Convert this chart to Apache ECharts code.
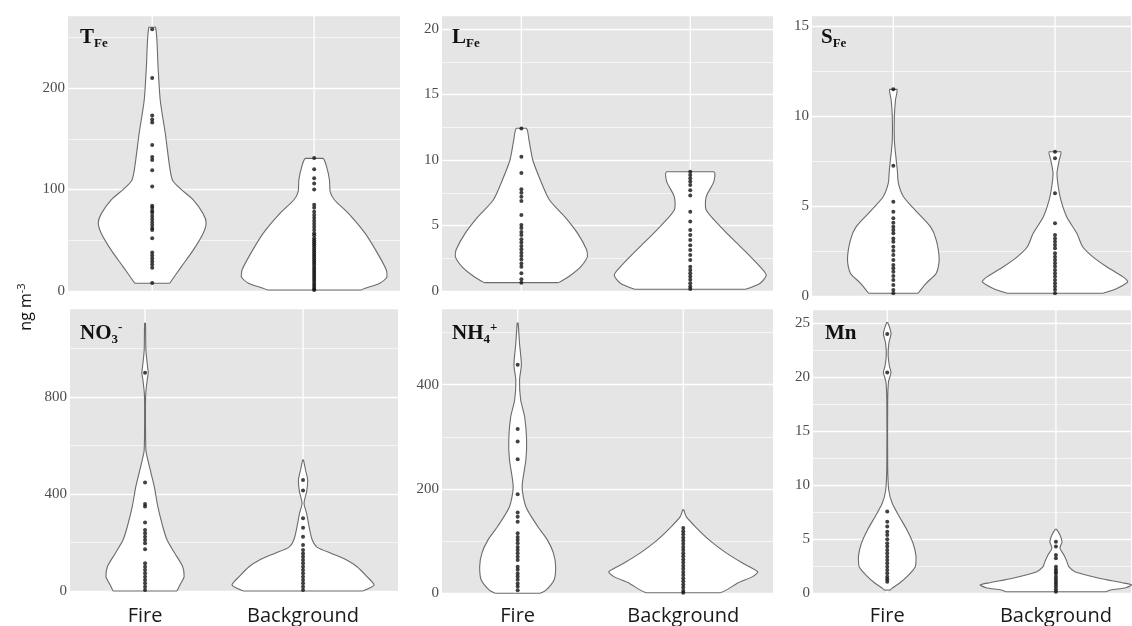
<!DOCTYPE html>
<html>
<head>
<meta charset="utf-8">
<title>Violin plots</title>
<script src="https://cdn.jsdelivr.net/npm/echarts@6/dist/echarts.min.js"></script>
<style>
  html, body { margin: 0; padding: 0; background: #fff; }
  #main { width: 1132px; height: 626px; }
</style>
</head>
<body>
<div id="main"></div>
<script>
var categories = ['Fire', 'Background'];

// points (ng m-3)
var tfeFirePts = [258, 210, 173, 169, 166, 144, 132, 129, 119, 103, 84, 82, 79, 77, 74, 71, 68, 65, 62, 60, 52, 38, 35, 32, 29, 26, 23, 8];
var tfeBgPts = [131, 120, 111, 106, 100, 85, 82, 78, 75, 72, 69, 66, 63, 60, 57, 55, 52, 50, 48, 46, 44, 42, 40, 38, 36, 34, 32, 30, 28, 26, 24, 22, 20, 18, 16, 14, 12, 10, 8, 6, 4, 2, 1];
var lfeFirePts = [12.4, 10.25, 9.0, 7.76, 7.5, 7.2, 6.87, 5.8, 5.04, 4.8, 4.5, 4.27, 3.95, 3.7, 3.44, 3.18, 2.92, 2.67, 2.4, 2.1, 1.85, 1.35, 0.9, 0.63];
var lfeBgPts = [9.1, 8.85, 8.6, 8.35, 8.1, 7.7, 7.3, 6.05, 5.3, 4.65, 4.27, 3.9, 3.5, 3.13, 2.75, 2.37, 1.85, 1.6, 1.35, 1.1, 0.85, 0.6, 0.35, 0.15];
var sfeFirePts = [11.48, 7.25, 5.25, 4.7, 4.33, 4.09, 3.87, 3.68, 3.5, 3.22, 3.04, 2.76, 2.54, 2.3, 2.02, 1.75, 1.56, 1.37, 1.14, 0.91, 0.64, 0.36, 0.18];
var sfeBgPts = [8.02, 7.66, 5.72, 4.06, 3.41, 3.22, 3.04, 2.85, 2.67, 2.39, 2.2, 2.02, 1.84, 1.66, 1.47, 1.29, 1.11, 0.92, 0.74, 0.55, 0.37, 0.18];
var no3FirePts = [900, 447, 359, 348, 282, 252, 238, 224, 210, 197, 172, 114, 100, 87, 73, 59, 45, 32, 18, 4];
var no3BgPts = [458, 414, 300, 261, 224, 190, 169, 155, 141, 128, 114, 100, 87, 73, 59, 45, 32, 18, 4];
var nh4FirePts = [438, 315, 291, 257, 190, 155, 147, 137, 115, 108, 102, 96, 89, 83, 77, 70, 64, 51, 45, 38, 32, 26, 19, 13, 6];
var nh4BgPts = [125, 119, 113, 107, 101, 95, 89, 83, 77, 71, 65, 59, 53, 47, 41, 35, 29, 23, 17, 11, 5, 1];
var mnFirePts = [23.98, 20.43, 7.56, 6.63, 6.17, 5.7, 5.4, 5.0, 4.63, 4.32, 4.01, 3.7, 3.39, 3.08, 2.78, 2.46, 2.16, 1.85, 1.54, 1.3, 1.07];
var mnBgPts = [4.78, 4.32, 3.55, 3.24, 2.46, 2.2, 2.0, 1.8, 1.54, 1.3, 1.07, 0.85, 0.62, 0.37, 0.15];

// violin outlines: [value, relative density width], top to bottom
var tfeFireShape = [[260, 0.045], [221, 0.08], [188, 0.11], [155, 0.18], [122, 0.24], [109, 0.28], [100, 0.4], [90, 0.56], [76, 0.7], [67, 0.74], [57, 0.7], [40, 0.56], [24, 0.4], [7.6, 0.24]];
var tfeBgShape = [[130.7, 0.12], [122.5, 0.17], [109.4, 0.21], [97.8, 0.22], [89.7, 0.28], [76.5, 0.47], [56.8, 0.7], [37.1, 0.87], [20.7, 0.99], [14.1, 1.0], [7.6, 0.9], [2.7, 0.7], [1.0, 0.64]];
var lfeFireShape = [[12.42, 0.066], [11.53, 0.1], [10.0, 0.15], [8.47, 0.25], [6.95, 0.37], [5.67, 0.57], [4.4, 0.74], [3.13, 0.86], [2.62, 0.87], [1.85, 0.78], [1.09, 0.62], [0.64, 0.49]];
var lfeBgShape = [[9.1, 0.31], [8.35, 0.31], [7.2, 0.21], [6.18, 0.21], [4.9, 0.4], [3.9, 0.57], [2.88, 0.75], [1.85, 0.92], [1.22, 1.0], [0.59, 0.92], [0.13, 0.73]];
var sfeFireShape = [[11.48, 0.05], [10.9, 0.03], [9.96, 0.014], [8.67, 0.014], [7.93, 0.03], [7.0, 0.055], [6.27, 0.07], [5.53, 0.14], [4.79, 0.3], [3.87, 0.51], [3.13, 0.59], [2.02, 0.63], [1.29, 0.59], [0.73, 0.45], [0.18, 0.34]];
var sfeBgShape = [[8.02, 0.08], [7.56, 0.058], [6.83, 0.027], [6.08, 0.045], [5.35, 0.08], [4.42, 0.16], [3.5, 0.3], [2.76, 0.38], [2.2, 0.52], [1.65, 0.71], [1.1, 0.93], [0.82, 1.0], [0.45, 0.85], [0.18, 0.66]];
var no3FireShape = [[1104, 0.006], [994, 0.012], [925, 0.035], [900, 0.045], [870, 0.03], [815, 0.01], [746, 0.006], [581, 0.012], [540, 0.04], [485, 0.085], [430, 0.13], [348, 0.18], [265, 0.25], [210, 0.31], [155, 0.42], [100, 0.53], [59, 0.55], [25, 0.49], [0, 0.45]];
var no3BgShape = [[540, 0.006], [499, 0.035], [458, 0.065], [410, 0.05], [362, 0.014], [320, 0.05], [265, 0.085], [210, 0.13], [180, 0.2], [155, 0.4], [130, 0.6], [100, 0.76], [59, 0.9], [25, 1.0], [0, 0.84]];
var nh4FireShape = [[518, 0.006], [479, 0.025], [438, 0.05], [409, 0.025], [371, 0.04], [338, 0.094], [294, 0.12], [256, 0.11], [204, 0.06], [166, 0.11], [128, 0.27], [102, 0.4], [77, 0.48], [51, 0.51], [26, 0.49], [6, 0.38], [0, 0.3]];
var nh4BgShape = [[160, 0.006], [147, 0.04], [128, 0.16], [102, 0.35], [77, 0.58], [57.5, 0.8], [41, 1.0], [32, 0.93], [19, 0.72], [8, 0.6], [1, 0.5]];
var mnFireShape = [[25.05, 0.006], [24.5, 0.035], [24.0, 0.05], [23.15, 0.022], [22.06, 0.012], [20.98, 0.03], [20.43, 0.05], [19.6, 0.018], [17.9, 0.006], [11.7, 0.006], [9.56, 0.02], [8.33, 0.066], [7.09, 0.16], [5.86, 0.26], [4.63, 0.34], [3.39, 0.38], [2.46, 0.37], [1.54, 0.26], [0.93, 0.16], [0.46, 0.06], [0.3, 0.04]];
var mnBgShape = [[5.93, 0.006], [5.4, 0.053], [4.78, 0.08], [4.17, 0.053], [3.55, 0.105], [2.93, 0.145], [2.46, 0.17], [2.0, 0.25], [1.39, 0.57], [0.98, 0.87], [0.77, 1.0], [0.52, 0.92], [0.31, 0.72], [0.15, 0.66]];

var HALF = 0.45; // widest violin is 0.9 of the category spacing

var panels = [
  {name: '{m|T}{sub|Fe}', pts: [tfeFirePts, tfeBgPts], shapes: [tfeFireShape, tfeBgShape],
   left: 68, top: 15, width: 332, height: 276, xMin: -0.52, xMax: 1.53, yMax: 272, interval: 100, tLeft: 80, tTop: 25},
  {name: '{m|L}{sub|Fe}', pts: [lfeFirePts, lfeBgPts], shapes: [lfeFireShape, lfeBgShape],
   left: 442, top: 15, width: 331, height: 276, xMin: -0.47, xMax: 1.49, yMax: 21.07, interval: 5, tLeft: 452, tTop: 25},
  {name: '{m|S}{sub|Fe}', pts: [sfeFirePts, sfeBgPts], shapes: [sfeFireShape, sfeBgShape],
   left: 812, top: 15, width: 319, height: 281.5, xMin: -0.503, xMax: 1.47, yMax: 15.6, interval: 5, tLeft: 821, tTop: 25},
  {name: '{m|NO}{sub|3}{sup|-}', pts: [no3FirePts, no3BgPts], shapes: [no3FireShape, no3BgShape],
   left: 70, top: 308, width: 328, height: 283, xMin: -0.475, xMax: 1.601, yMax: 1167, interval: 400, tLeft: 80, tTop: 321, labels: true, margin: 15},
  {name: '{m|NH}{sub|4}{sup|+}', pts: [nh4FirePts, nh4BgPts], shapes: [nh4FireShape, nh4BgShape],
   left: 442, top: 308, width: 331, height: 285.3, xMin: -0.457, xMax: 1.542, yMax: 547, interval: 200, tLeft: 452, tTop: 321, labels: true, margin: 13},
  {name: '{m|Mn}', pts: [mnFirePts, mnBgPts], shapes: [mnFireShape, mnBgShape],
   left: 813, top: 309, width: 318, height: 284.3, xMin: -0.44, xMax: 1.445, yMax: 26.3, interval: 5, tLeft: 825, tTop: 321, labels: true, margin: 13}
];

var titleRich = {
  m: {fontFamily: 'Liberation Serif', fontWeight: 'bold', fontSize: 21, lineHeight: 25, color: '#111'},
  sub: {fontFamily: 'Liberation Serif', fontWeight: 'bold', fontSize: 13, lineHeight: 13, verticalAlign: 'bottom', color: '#111'},
  sup: {fontFamily: 'Liberation Serif', fontWeight: 'bold', fontSize: 13, lineHeight: 13, verticalAlign: 'top', color: '#111'}
};

function violinItem(shapes) {
  return function (params, api) {
    var cat = api.value(0);
    var shape = shapes[params.dataIndex];
    var left = [], right = [];
    shape.forEach(function (s) {
      left.push(api.coord([cat - s[1] * HALF, s[0]]));
      right.push(api.coord([cat + s[1] * HALF, s[0]]));
    });
    var baseL = left[left.length - 1];
    var baseR = right[right.length - 1];
    // open outline: base-left, up the left side, down the right side
    var pts = left.slice().reverse().concat(right);
    return {
      type: 'group',
      children: [{
        type: 'polyline',
        shape: {points: pts, smooth: 0.25, smoothConstraint: [pts[0], pts[0]]},
        style: {fill: '#fff', stroke: '#6b6b6b', lineWidth: 1.1}
      }, {
        type: 'line',
        shape: {x1: baseL[0], y1: baseL[1], x2: baseR[0], y2: baseR[1]},
        style: {stroke: '#6b6b6b', lineWidth: 1.1}
      }]
    };
  };
}

function gridLineItem(yMax) {
  return function (params, api) {
    var a = api.coord([api.value(0), 0]);
    var b = api.coord([api.value(0), yMax]);
    return {
      type: 'line',
      shape: {x1: a[0], y1: a[1], x2: b[0], y2: b[1]},
      style: {stroke: '#fff', lineWidth: 1.3}
    };
  };
}

var option = {
  animation: false,
  backgroundColor: '#fff',
  title: [],
  grid: [],
  xAxis: [],
  yAxis: [],
  series: [],
  graphic: [{
    type: 'text',
    x: 26,
    y: 307,
    rotation: Math.PI / 2,
    style: {
      text: '{a|ng m}{b|-3}',
      align: 'center',
      verticalAlign: 'middle',
      rich: {
        a: {fontFamily: 'Open Sans', fontSize: 16, lineHeight: 20, fill: '#111'},
        b: {fontFamily: 'Open Sans', fontSize: 11, lineHeight: 11, verticalAlign: 'top', fill: '#111'}
      }
    }
  }]
};

panels.forEach(function (p, i) {
  option.title.push({
    text: p.name, left: p.tLeft, top: p.tTop, padding: 0,
    textStyle: {rich: titleRich}
  });
  option.grid.push({
    left: p.left, top: p.top, width: p.width, height: p.height,
    show: true, backgroundColor: '#e5e5e5', borderWidth: 0,
    containLabel: false, outerBoundsMode: 'none'
  });
  option.xAxis.push({
    gridIndex: i, type: 'value', min: p.xMin, max: p.xMax,
    axisLine: {show: false}, axisTick: {show: false}, splitLine: {show: false},
    axisLabel: {
      show: !!p.labels, customValues: [0, 1], margin: p.margin || 10,
      fontFamily: 'Open Sans', fontSize: 20, color: '#1a1a1a',
      formatter: function (v) { return categories[v]; }
    }
  });
  option.yAxis.push({
    gridIndex: i, type: 'value', min: 0, max: p.yMax, interval: p.interval,
    axisLine: {show: false}, axisTick: {show: false},
    axisLabel: {fontFamily: 'Liberation Serif', fontSize: 15, color: '#4d4d4d', margin: 3, showMaxLabel: false},
    splitLine: {lineStyle: {color: '#fff', width: 1.3}},
    minorTick: {show: false, splitNumber: 2},
    minorSplitLine: {show: true, lineStyle: {color: '#fff', width: 0.6}}
  });
  option.series.push({
    type: 'custom', xAxisIndex: i, yAxisIndex: i, z: 1, silent: true,
    data: [[0, 0], [1, 0]], encode: {x: 0, y: 1},
    renderItem: gridLineItem(p.yMax)
  });
  option.series.push({
    type: 'custom', xAxisIndex: i, yAxisIndex: i, z: 2, silent: true,
    data: [[0, 0], [1, 0]], encode: {x: 0, y: 1},
    renderItem: violinItem(p.shapes)
  });
  var dots = [];
  p.pts.forEach(function (arr, c) {
    arr.forEach(function (v) { dots.push([c, v]); });
  });
  option.series.push({
    type: 'scatter', xAxisIndex: i, yAxisIndex: i, z: 3, silent: true,
    symbolSize: 4, itemStyle: {color: '#111'},
    data: dots
  });
});

var myChart = echarts.init(document.getElementById('main'));
myChart.setOption(option);
window.addEventListener('resize', myChart.resize);
</script>
</body>
</html>
